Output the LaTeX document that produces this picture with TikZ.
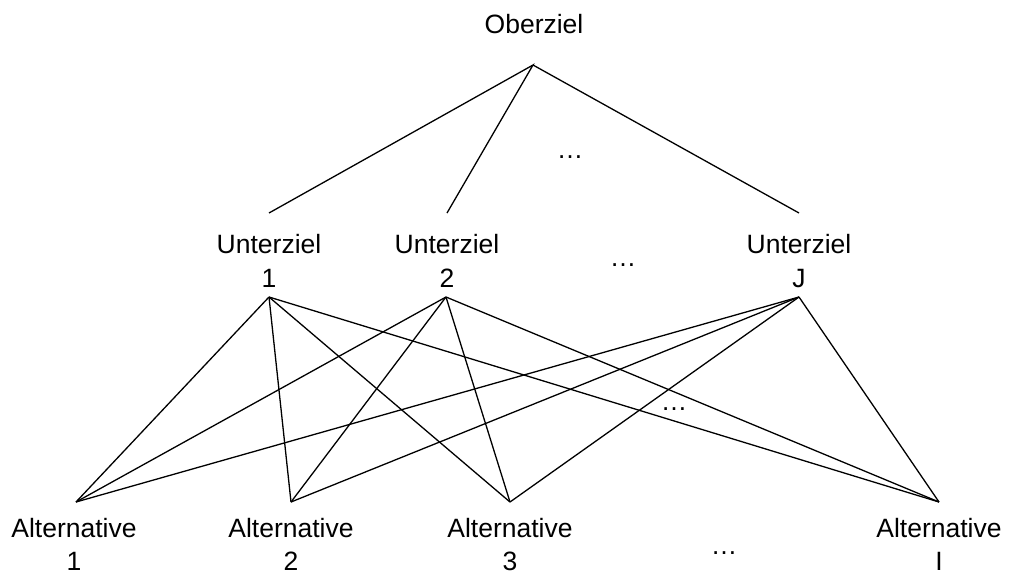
\documentclass[tikz,border=0pt]{standalone}
\usepackage{fontspec}
\setmainfont{Liberation Sans}
\begin{document}
\begin{tikzpicture}[x=1pt,y=-1pt,
  lbl/.style={anchor=base,inner sep=0pt,font=\fontsize{26.5}{30}\selectfont},
  edge/.style={line width=1.3pt,black}]
\useasboundingbox (0,0) rectangle (1011,571);
% labels
\node[lbl] (ober) at (534,33) {Oberziel};
\node[lbl] (u1a) at (269,253) {Unterziel};
\node[lbl] (u1b) at (269,287) {1};
\node[lbl] (u2a) at (447,253) {Unterziel};
\node[lbl] (u2b) at (447,287) {2};
\node[lbl] (uja) at (799,253) {Unterziel};
\node[lbl] (ujb) at (799,287) {J};
\node[lbl] (a1a) at (74,537) {Alternative};
\node[lbl] (a1b) at (74,570) {1};
\node[lbl] (a2a) at (291,537) {Alternative};
\node[lbl] (a2b) at (291,570) {2};
\node[lbl] (a3a) at (510,537) {Alternative};
\node[lbl] (a3b) at (510,570) {3};
\node[lbl] (aia) at (939,537) {Alternative};
\node[lbl] (aib) at (939,570) {I};
\node[lbl] (d1) at (570,158.5) {…};
\node[lbl] (d2) at (623,266.5) {…};
\node[lbl] (d3) at (674,410.5) {…};
\node[lbl] (d4) at (724,554.5) {…};
% connection points
\coordinate (top) at (533,65);
\coordinate (u1t) at (269,213);
\coordinate (u2t) at (447,213);
\coordinate (ujt) at (799,213);
\coordinate (u1) at (269,297);
\coordinate (u2) at (446,297);
\coordinate (uj) at (799,297);
\coordinate (p1) at (76,502);
\coordinate (p2) at (291,502);
\coordinate (p3) at (510,502);
\coordinate (pi) at (939,502);
\draw[edge] (u1t) -- (top) -- (u2t);
\draw[edge] (top) -- (ujt);
\foreach \u in {u1,u2,uj}{
  \foreach \p in {p1,p2,p3,pi}{
    \draw[edge] (\u) -- (\p);
  }
}
\end{tikzpicture}
\end{document}
